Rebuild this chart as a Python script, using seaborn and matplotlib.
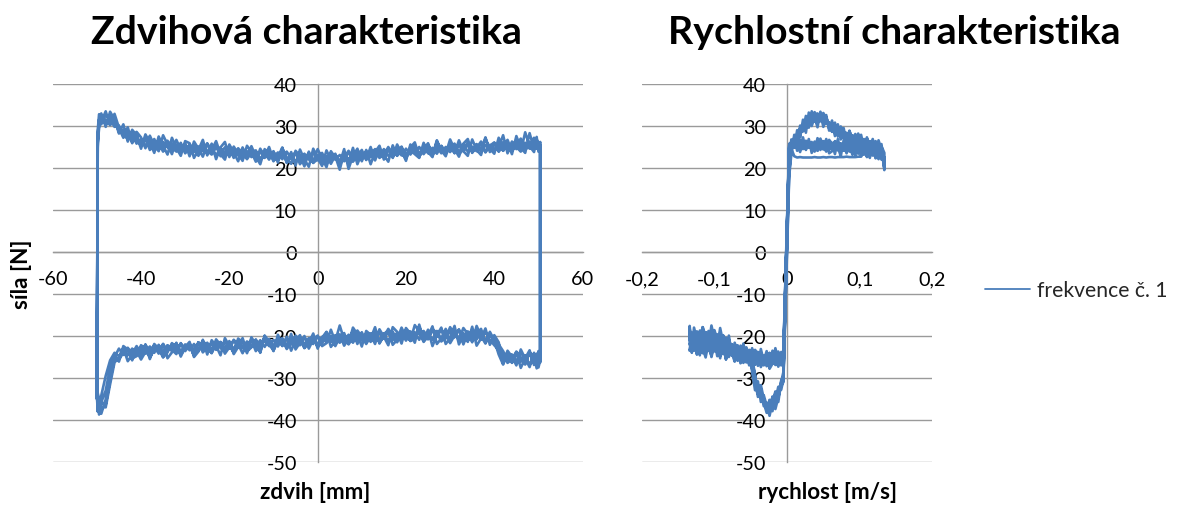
import matplotlib
matplotlib.use("Agg")
import matplotlib.pyplot as plt
import seaborn as sns
import pandas as pd
from matplotlib.lines import Line2D

# ---------------- data ----------------
TITLE_LEFT = "Zdvihová charakteristika"
TITLE_RIGHT = "Rychlostní charakteristika"
XLABEL_LEFT = "zdvih [mm]"
XLABEL_RIGHT = "rychlost [m/s]"
YLABEL = "síla [N]"
SERIES_NAME = "frekvence č. 1"

Y_TICKS = [-50, -40, -30, -20, -10, 0, 10, 20, 30, 40]
Y_TICK_LABELS = ["-50", "-40", "-30", "-20", "-10", "0", "10", "20", "30", "40"]
X_TICKS_LEFT = [-60, -40, -20, 0, 20, 40, 60]
X_TICK_LABELS_LEFT = ["-60", "-40", "-20", "0", "20", "40", "60"]
X_TICKS_RIGHT = [-0.2, -0.1, 0.0, 0.1, 0.2]
X_TICK_LABELS_RIGHT = ["-0,2", "-0,1", "0", "0,1", "0,2"]

# stroke positions [mm] of the up-stroke (the down-stroke runs the same positions backwards)
STROKE_X = [-50.0, -49.8, -49.5, -49, -48, -47, -46, -45, -44, -43, -42, -41, -40,
            -39, -38, -37, -36, -35, -34, -33, -32, -31, -30,
            -29, -28, -27, -26, -25, -24, -23, -22, -21, -20,
            -19, -18, -17, -16, -15, -14, -13, -12, -11, -10,
            -9, -8, -7, -6, -5, -4, -3, -2, -1, 0,
            1, 2, 3, 4, 5, 6, 7, 8, 9, 10,
            11, 12, 13, 14, 15, 16, 17, 18, 19, 20,
            21, 22, 23, 24, 25, 26, 27, 28, 29, 30,
            31, 32, 33, 34, 35, 36, 37, 38, 39, 40,
            41, 42, 43, 44, 45, 46, 47, 48, 49,
            49.6, 50.0, 50.4]

# force [N] on the up-stroke, five cycles
UP_F1 = [-31, 27.5, 30.2, 31.8, 30.6, 32.2, 30.4, 29.5, 27.2, 28.4, 26.1, 27.6, 25.3,
         26.8, 25.0, 26.9, 24.6, 26.2, 24.9, 25.8, 23.9, 25.7, 24.2,
         25.6, 23.8, 25.1, 24.0, 25.9, 23.5, 24.8, 23.6, 24.9, 23.2,
         24.6, 23.0, 24.4, 22.7, 24.3, 22.9, 23.8, 22.4, 24.1, 22.6,
         23.7, 22.1, 23.9, 22.3, 23.5, 21.8, 23.4, 22.0, 23.6, 21.9,
         23.2, 21.7, 23.5, 22.0, 23.1, 21.6, 23.8, 22.3, 24.0, 22.2,
         23.9, 22.6, 24.2, 22.8, 24.5, 22.9, 24.1, 23.0, 24.8, 23.1,
         24.6, 23.4, 25.0, 23.3, 24.7, 23.6, 25.2, 23.5, 25.0, 23.8,
         25.3, 23.7, 25.6, 23.9, 25.1, 24.0, 25.8, 23.9, 25.5, 24.2,
         26.0, 24.1, 25.7, 24.4, 26.3, 24.2, 26.0, 24.6, 26.4,
         24.8, 26.1, 25.0]
UP_F2 = [-33, 26.0, 29.4, 32.5, 31.2, 30.3, 32.0, 28.6, 29.0, 26.8, 27.9, 25.8, 26.9,
         25.2, 26.6, 24.8, 26.3, 24.5, 25.9, 24.3, 25.4, 24.0, 25.5,
         23.7, 25.2, 23.6, 24.9, 23.4, 24.7, 23.0, 24.8, 22.9, 24.4,
         22.8, 24.1, 22.5, 24.0, 22.6, 23.9, 22.2, 23.6, 22.0, 23.8,
         21.9, 23.3, 21.8, 23.4, 21.5, 23.0, 21.6, 22.9, 21.2, 23.1,
         21.4, 22.8, 21.0, 23.0, 21.7, 23.3, 21.9, 23.6, 22.0, 23.5,
         22.3, 24.0, 22.5, 23.9, 22.7, 24.3, 22.9, 24.4, 23.0, 24.6,
         23.2, 24.5, 23.3, 25.1, 23.5, 24.8, 23.4, 25.3, 23.8, 25.0,
         23.6, 25.4, 24.0, 25.5, 23.9, 25.7, 24.1, 25.4, 24.3, 25.9,
         24.0, 26.1, 24.4, 25.8, 24.5, 26.5, 24.3, 26.2, 24.7,
         26.6, 24.9, 25.5]
UP_F3 = [-29, 28.2, 31.0, 30.4, 32.6, 31.5, 29.8, 30.1, 28.0, 27.0, 28.3, 26.4, 25.6,
         27.1, 24.3, 25.5, 25.9, 23.9, 26.5, 24.6, 24.1, 26.0, 23.5,
         24.6, 25.3, 22.9, 25.4, 24.1, 23.2, 25.5, 22.8, 23.9, 24.8,
         22.4, 24.7, 23.5, 22.1, 23.7, 24.2, 21.8, 23.3, 23.9, 21.6,
         23.1, 24.0, 21.4, 22.6, 23.7, 20.9, 22.4, 23.5, 21.3, 22.0,
         23.6, 21.2, 22.1, 23.4, 20.8, 22.5, 24.1, 21.5, 22.9, 24.3,
         21.9, 23.3, 24.5, 22.4, 23.2, 25.0, 22.6, 23.9, 25.1, 22.8,
         24.0, 25.4, 23.1, 24.2, 25.6, 23.2, 24.5, 25.2, 23.6, 24.9,
         25.8, 23.3, 24.6, 26.0, 23.8, 24.8, 26.3, 23.7, 25.3, 26.1,
         23.9, 25.2, 26.7, 24.0, 25.6, 27.0, 24.4, 25.3, 27.2,
         24.6, 26.0, 24.8]
UP_F4 = [-35, 25.0, 31.5, 33.0, 29.8, 33.4, 31.6, 28.2, 30.4, 26.3, 29.1, 27.8, 24.6,
         28.0, 26.1, 23.6, 27.5, 25.3, 23.2, 27.2, 24.8, 22.9, 26.4,
         25.9, 22.4, 24.3, 26.7, 23.0, 25.8, 22.1, 24.9, 26.2, 22.6,
         25.1, 23.4, 21.7, 25.3, 23.8, 21.5, 24.6, 22.8, 25.0, 21.9,
         22.6, 24.9, 21.2, 23.8, 20.6, 24.4, 22.0, 20.3, 24.6, 22.3,
         20.5, 24.2, 21.9, 22.8, 19.6, 23.7, 21.4, 24.8, 20.9, 23.5,
         22.1, 25.0, 21.8, 24.6, 23.1, 21.5, 25.4, 22.9, 24.2, 21.7,
         25.6, 23.3, 22.4, 26.0, 23.8, 22.6, 26.4, 24.2, 22.8, 25.9,
         23.5, 26.6, 24.0, 22.9, 26.8, 24.3, 23.1, 27.0, 24.6, 23.4,
         27.2, 24.1, 26.0, 23.3, 27.6, 24.8, 23.6, 28.3, 24.5,
         27.4, 23.9, 26.2]
UP_F5 = [-32, 29.0, 32.8, 31.0, 33.5, 30.2, 32.9, 29.6, 27.6, 29.7, 25.9, 28.6, 27.3,
         24.7, 27.7, 25.4, 24.0, 27.8, 25.6, 23.3, 26.7, 24.4, 25.9,
         22.8, 26.3, 24.6, 22.7, 25.7, 24.3, 26.4, 23.3, 22.0, 25.6,
         23.7, 21.6, 24.9, 22.5, 25.2, 22.7, 20.9, 24.5, 22.9, 24.0,
         21.3, 24.7, 22.4, 21.0, 24.1, 22.9, 20.4, 23.9, 21.6, 24.5,
         22.3, 20.2, 24.0, 22.5, 21.1, 24.5, 19.8, 22.9, 24.6, 21.6,
         24.3, 20.9, 23.8, 25.3, 22.0, 24.7, 22.4, 25.6, 23.5, 22.2,
         24.9, 26.1, 22.7, 24.4, 25.9, 23.0, 26.6, 24.0, 23.4, 26.8,
         24.5, 22.7, 25.8, 26.9, 23.6, 25.1, 24.2, 27.3, 23.8, 25.9,
         24.9, 27.8, 23.5, 26.3, 25.0, 23.9, 28.5, 25.2, 23.8,
         26.9, 25.3, 24.6]

# force [N] on the down-stroke (positions STROKE_X reversed), five cycles
DOWN_F1 = [-24.5, -26.8, -24.2,
           -26.5, -24.1, -25.9, -23.8, -26.2, -24.4, -25.7, -23.6, -22.0, -21.3,
           -19.4, -21.0, -19.2, -20.8, -19.0, -21.1, -19.3, -20.6, -18.9, -21.0,
           -19.1, -20.7, -18.8, -20.9, -19.2, -21.2, -19.0, -20.5, -18.9, -21.1,
           -19.3, -20.8, -19.0, -21.3, -19.4, -20.9, -19.6, -21.4, -19.5, -21.0,
           -19.8, -21.6, -19.7, -21.3, -20.0, -21.8, -20.1, -21.5, -20.2, -22.0,
           -20.4, -21.9, -20.3, -22.2, -20.6, -22.0, -20.5, -22.4, -20.8, -22.3,
           -20.7, -22.6, -21.0, -22.5, -20.9, -22.8, -21.2, -22.7, -21.1, -23.0,
           -21.4, -22.9, -21.3, -23.2, -21.6, -23.1, -21.5, -23.4, -21.8, -23.3,
           -21.7, -23.6, -22.0, -23.5, -21.9, -23.8, -22.2, -23.7, -22.1, -24.0,
           -22.4, -24.2, -22.8, -24.5, -23.0, -25.0, -27.5, -33.0, -35.8,
           -37.0, -35.2, -31.0]
DOWN_F2 = [-25.2, -24.0, -26.6,
           -24.3, -26.9, -24.6, -26.1, -24.0, -26.3, -24.5, -25.1, -23.4, -22.2,
           -20.9, -19.0, -20.9, -18.7, -20.4, -18.9, -20.8, -18.6, -20.3, -18.8,
           -20.6, -18.5, -20.2, -18.7, -20.5, -18.8, -20.9, -19.1, -20.7, -18.9,
           -20.8, -19.2, -21.0, -19.1, -20.6, -19.3, -21.1, -19.4, -20.9, -19.6,
           -21.3, -19.5, -21.2, -19.9, -21.6, -19.8, -21.4, -20.2, -21.7, -20.1,
           -21.9, -20.5, -22.0, -20.4, -22.3, -20.7, -22.1, -20.6, -22.5, -20.9,
           -22.4, -21.0, -22.7, -20.8, -22.6, -21.3, -22.9, -21.2, -23.1, -21.5,
           -23.0, -21.4, -23.3, -21.7, -23.2, -21.6, -23.5, -21.9, -23.4, -22.0,
           -23.7, -21.8, -23.6, -22.3, -23.9, -22.1, -24.0, -22.5, -24.1, -22.7,
           -24.3, -23.0, -24.6, -23.1, -24.8, -24.0, -25.8, -29.5, -34.2,
           -36.5, -37.8, -33.0]
DOWN_F3 = [-23.8, -25.5, -27.2,
           -25.0, -23.9, -26.8, -25.2, -23.7, -25.6, -26.4, -24.2, -22.9, -20.5,
           -19.9, -21.6, -18.3, -19.7, -21.2, -19.5, -18.1, -20.9, -19.6, -17.9,
           -20.4, -21.3, -19.2, -18.4, -20.8, -19.9, -18.0, -20.6, -21.2, -18.6,
           -19.4, -21.5, -20.0, -18.3, -20.2, -21.6, -18.9, -19.8, -21.9, -20.1,
           -18.7, -20.4, -22.0, -19.3, -20.3, -22.4, -20.5, -19.2, -21.0, -22.6,
           -20.1, -20.9, -22.8, -21.0, -19.9, -21.7, -23.1, -20.6, -21.3, -23.4,
           -21.1, -20.5, -22.2, -23.6, -21.0, -21.9, -24.1, -22.0, -20.9, -22.7,
           -24.2, -21.5, -22.1, -24.0, -22.3, -21.2, -23.4, -24.6, -21.9, -22.8,
           -24.5, -22.6, -21.7, -23.9, -25.0, -22.4, -23.3, -25.1, -22.9, -22.2,
           -24.8, -25.3, -23.1, -24.0, -25.6, -25.5, -30.5, -36.4, -37.6,
           -35.0, -33.6, -30.0]
DOWN_F4 = [-26.3, -23.6, -27.7,
           -24.0, -27.4, -25.4, -23.2, -27.0, -24.9, -23.5, -26.6, -21.5, -19.8,
           -22.1, -18.2, -20.6, -22.3, -17.8, -21.4, -19.7, -22.0, -17.6, -20.5,
           -21.9, -18.0, -19.8, -22.4, -18.5, -20.9, -17.3, -21.6, -19.4, -18.1,
           -21.8, -19.0, -17.9, -22.2, -20.2, -18.4, -21.9, -19.7, -18.8, -22.5,
           -19.6, -18.0, -21.8, -20.9, -17.5, -21.2, -22.6, -19.0, -20.4, -23.0,
           -19.4, -21.7, -22.9, -19.8, -21.0, -23.5, -20.2, -22.3, -19.7, -23.6,
           -21.3, -19.9, -23.8, -22.0, -20.3, -24.1, -21.5, -20.6, -23.9, -22.4,
           -20.5, -24.6, -22.3, -21.0, -24.4, -20.9, -23.7, -25.0, -21.4, -22.6,
           -24.9, -21.6, -23.9, -25.3, -21.9, -24.2, -22.5, -25.5, -22.0, -24.6,
           -22.7, -25.8, -23.2, -22.4, -26.1, -24.6, -29.0, -35.1, -38.5,
           -36.2, -38.0, -34.0]
DOWN_F5 = [-25.8, -27.5, -24.4,
           -26.9, -23.4, -25.3, -27.6, -23.9, -26.4, -24.1, -26.8, -24.4, -21.0,
           -19.0, -21.8, -20.0, -17.6, -21.5, -19.3, -22.0, -18.4, -19.9, -21.7,
           -18.3, -20.6, -21.9, -17.7, -20.1, -21.4, -18.9, -17.4, -21.1, -20.3,
           -18.0, -20.9, -22.1, -18.7, -19.5, -21.8, -17.9, -20.6, -21.5, -19.1,
           -21.9, -18.8, -20.7, -22.3, -19.6, -21.4, -18.5, -21.7, -22.4, -19.9,
           -20.8, -23.0, -20.0, -21.6, -23.2, -19.5, -22.8, -21.3, -20.4, -23.3,
           -22.1, -20.0, -24.0, -21.0, -22.7, -23.7, -20.5, -22.6, -24.3, -21.2,
           -23.3, -22.1, -20.8, -24.1, -22.8, -23.9, -21.5, -24.7, -22.2, -23.6,
           -21.8, -24.3, -23.3, -22.2, -25.1, -23.0, -21.9, -24.7, -23.8, -25.6,
           -23.6, -24.4, -26.0, -22.9, -25.2, -26.3, -31.5, -37.0, -35.5,
           -38.7, -36.4, -32.5]

# velocity grids [m/s]
V_POS = [0.003, 0.006, 0.010, 0.014, 0.018, 0.022, 0.026, 0.030, 0.034, 0.038,
         0.042, 0.046, 0.050, 0.054, 0.058, 0.062, 0.066, 0.070, 0.074, 0.078,
         0.082, 0.086, 0.090, 0.094, 0.098, 0.102, 0.106, 0.110, 0.114, 0.118,
         0.122, 0.126, 0.130, 0.134]
V_NEG = [-0.005, -0.008, -0.012, -0.016, -0.020, -0.024, -0.028, -0.032, -0.036, -0.040,
         -0.044, -0.048, -0.052, -0.056, -0.060, -0.064, -0.068, -0.072, -0.076, -0.080,
         -0.084, -0.088, -0.092, -0.096, -0.100, -0.104, -0.108, -0.112, -0.116, -0.120,
         -0.124, -0.128, -0.131, -0.134]

# A: accelerating up-stroke (V_POS ascending)
A_F1 = [20.5, 25.3, 27.2, 26.8, 29.4, 28.7, 31.2, 30.1, 32.6, 31.0, 33.0, 31.1, 32.4, 30.6, 30.9, 28.7,
        29.8, 27.9, 28.9, 27.0, 28.4, 26.6, 27.8, 25.9, 27.4, 25.4, 26.9, 24.8, 26.4, 24.3, 25.9, 23.8,
        25.2, 23.6]
A_F2 = [19.0, 24.2, 26.0, 28.1, 27.6, 30.3, 29.5, 31.9, 30.8, 32.9, 31.4, 32.8, 30.7, 32.1, 29.4, 30.3,
        28.2, 29.6, 27.3, 28.8, 26.9, 28.3, 26.2, 27.6, 25.8, 27.1, 25.1, 26.7, 24.6, 26.2, 24.2, 25.6,
        23.4, 21.0]
A_F3 = [21.5, 25.8, 26.3, 27.9, 28.3, 29.1, 30.8, 31.5, 31.2, 33.3, 32.2, 31.6, 33.1, 31.8, 30.2, 29.9,
        29.3, 28.6, 29.2, 27.8, 27.1, 28.0, 27.5, 26.4, 26.8, 26.9, 25.6, 25.9, 26.1, 24.7, 24.9, 25.3,
        23.9, 22.5]
A_F4 = [22.5, 26.8, 24.9, 29.0, 27.3, 31.5, 28.4, 33.2, 30.0, 32.1, 29.7, 33.4, 31.0, 32.6, 28.9, 31.3,
        27.6, 30.4, 26.8, 29.5, 25.9, 28.9, 26.5, 28.1, 25.3, 27.9, 24.6, 27.3, 25.0, 26.9, 23.9, 26.6,
        24.4, 22.0]
A_F5 = [18.0, 23.4, 27.9, 25.6, 30.1, 28.9, 32.4, 29.6, 33.5, 31.4, 30.5, 33.1, 29.8, 31.6, 30.6, 28.6,
        30.8, 27.5, 29.9, 28.1, 26.4, 28.7, 27.0, 25.7, 28.2, 26.0, 24.4, 27.0, 25.2, 24.0, 26.4, 23.2,
        25.7, 19.8]
# B: decelerating up-stroke (V_POS descending)
B_F1 = [20.2, 24.1, 22.6, 24.5, 23.0, 24.8, 23.1, 25.2, 23.5, 25.4, 23.7, 25.8, 23.9, 26.0, 24.1, 25.9,
        24.2, 26.3, 24.4, 26.1, 24.5, 26.4, 24.3, 26.6, 24.6, 26.2, 24.8, 26.5, 24.5, 26.7, 24.9, 26.0,
        25.3, 25.8]
B_F2 = [22.4, 22.0, 23.9, 22.5, 24.3, 22.8, 24.6, 23.2, 24.9, 23.4, 25.2, 23.6, 25.5, 23.8, 25.7, 24.0,
        25.6, 24.2, 26.0, 24.3, 25.9, 24.4, 26.2, 24.1, 26.3, 24.7, 26.0, 24.6, 26.4, 24.8, 26.1, 25.0,
        26.2, 24.9]
B_F3 = [21.8, 24.0, 22.9, 24.7, 23.1, 24.4, 22.8, 23.9, 22.7, 22.7, 22.6, 22.6, 22.6, 22.7, 22.6, 22.6,
        22.6, 22.5, 22.6, 22.6, 22.5, 22.6, 22.5, 22.5, 22.6, 22.5, 22.5, 22.5, 22.5, 22.6, 22.5, 22.8,
        24.6, 25.4]
B_F4 = [21.0, 23.5, 25.2, 22.3, 24.9, 26.1, 22.6, 25.5, 23.4, 26.4, 22.9, 25.1, 26.8, 23.5, 25.6, 24.0,
        26.9, 23.3, 25.8, 26.7, 23.9, 25.2, 27.0, 24.2, 25.7, 23.6, 26.9, 24.5, 25.9, 23.8, 26.6, 24.8,
        26.3, 25.1]
B_F5 = [19.5, 24.8, 22.1, 23.7, 25.6, 22.4, 24.2, 26.2, 23.0, 24.7, 26.5, 23.2, 25.3, 24.1, 26.6, 22.8,
        25.0, 26.4, 24.0, 23.5, 26.9, 24.6, 25.1, 27.1, 23.9, 25.4, 26.2, 24.3, 27.3, 25.0, 24.1, 26.8,
        25.6, 24.7]
# C: accelerating down-stroke (V_NEG order)
C_F1 = [-24.0, -26.3, -24.6, -26.9, -24.8, -26.5, -24.3, -26.1, -23.9, -26.4, -24.2, -25.8, -23.5,
        -25.9, -23.3, -25.2, -22.8, -24.6, -22.1, -22.9, -20.4, -21.8, -19.3, -21.5, -19.0, -21.7,
        -18.8, -21.4, -18.9, -21.9, -19.2, -22.3, -19.5, -21.0]
C_F2 = [-25.8, -24.2, -27.0, -24.5, -26.6, -24.1, -27.2, -24.7, -26.3, -23.8, -26.7, -24.0, -26.2,
        -23.6, -25.7, -23.4, -25.5, -22.6, -23.8, -21.2, -22.6, -19.8, -21.9, -19.6, -22.0, -19.4,
        -21.6, -19.1, -22.2, -18.7, -21.8, -19.0, -22.5, -18.2]
C_F3 = [-25.0, -25.6, -23.7, -25.9, -26.4, -24.0, -25.3, -27.0, -24.5, -25.0, -26.8, -23.7, -24.6,
        -26.3, -24.1, -23.8, -25.9, -23.2, -22.0, -23.9, -21.1, -19.9, -22.6, -20.7, -18.6, -21.2,
        -22.0, -19.1, -20.4, -22.8, -18.9, -20.5, -23.1, -17.6]
C_F4 = [-26.5, -23.8, -27.3, -25.2, -23.5, -27.6, -24.9, -26.0, -23.1, -27.1, -25.5, -22.9, -26.5,
        -24.6, -22.4, -26.2, -23.9, -21.6, -24.7, -19.9, -23.3, -21.5, -18.1, -22.9, -20.6, -17.5,
        -22.4, -20.1, -17.9, -23.0, -20.8, -18.0, -24.0, -19.6]
C_F5 = [-24.6, -27.0, -25.8, -22.9, -26.6, -27.8, -23.6, -25.9, -27.4, -24.2, -23.3, -26.9, -25.0,
        -22.7, -25.6, -26.5, -22.2, -24.9, -23.0, -20.8, -21.9, -24.3, -19.4, -20.7, -23.6, -18.8,
        -21.3, -23.9, -17.9, -20.5, -24.4, -19.1, -21.7, -23.5]
# D: decelerating down-stroke (V_NEG reversed)
D_F1 = [-20.5, -22.4, -20.9, -22.8, -21.0, -23.1, -21.3, -23.4, -21.5, -23.6, -21.7, -23.8, -22.0,
        -24.1, -22.2, -24.3, -22.4, -24.6, -22.7, -24.9, -23.0, -25.2, -25.6, -29.8, -32.4, -34.6,
        -35.1, -37.3, -35.4, -36.0, -33.2, -33.9, -30.6, -29.5]
D_F2 = [-22.1, -20.6, -23.0, -21.2, -22.6, -21.4, -23.5, -21.6, -23.3, -21.9, -24.0, -22.1, -23.9,
        -22.3, -24.4, -22.5, -24.2, -22.8, -25.0, -23.1, -24.8, -23.4, -27.9, -31.2, -33.8, -33.0,
        -36.7, -35.9, -38.1, -34.4, -35.3, -32.1, -32.8, -30.4]
D_F3 = [-18.6, -21.9, -23.5, -19.7, -22.2, -24.1, -20.5, -23.0, -24.6, -21.0, -22.7, -25.3, -21.6,
        -23.4, -25.0, -22.1, -23.8, -25.6, -22.9, -24.5, -26.0, -23.5, -26.8, -30.7, -34.5, -32.6,
        -35.8, -38.3, -36.9, -34.7, -36.2, -32.9, -31.4, -29.8]
D_F4 = [-20.0, -23.8, -19.4, -22.5, -24.6, -20.3, -23.6, -21.1, -25.0, -22.0, -20.6, -24.7, -22.4,
        -25.5, -21.3, -24.0, -26.1, -22.6, -24.9, -21.8, -25.7, -23.3, -28.5, -32.9, -30.8, -35.7,
        -34.1, -36.6, -39.0, -35.8, -37.4, -34.6, -31.9, -31.0]
D_F5 = [-23.2, -19.8, -21.4, -24.3, -20.7, -22.9, -25.1, -21.6, -23.5, -20.9, -24.8, -22.8, -21.5,
        -25.6, -23.2, -22.0, -25.9, -24.1, -22.3, -26.4, -24.4, -27.0, -25.4, -29.1, -33.6, -31.7,
        -34.9, -37.8, -35.2, -37.9, -33.5, -35.7, -31.0, -28.6]

# ---------------- assemble long-form tables ----------------
UP_CYCLES = [UP_F1, UP_F2, UP_F3, UP_F4, UP_F5]
DOWN_CYCLES = [DOWN_F1, DOWN_F2, DOWN_F3, DOWN_F4, DOWN_F5]
A_CYCLES = [A_F1, A_F2, A_F3, A_F4, A_F5]
B_CYCLES = [B_F1, B_F2, B_F3, B_F4, B_F5]
C_CYCLES = [C_F1, C_F2, C_F3, C_F4, C_F5]
D_CYCLES = [D_F1, D_F2, D_F3, D_F4, D_F5]

for arr in UP_CYCLES + DOWN_CYCLES:
    assert len(arr) == len(STROKE_X), len(arr)
for arr in A_CYCLES + B_CYCLES + C_CYCLES + D_CYCLES:
    assert len(arr) == len(V_POS) == len(V_NEG), len(arr)

lx, lf = [], []
for up, down in zip(UP_CYCLES, DOWN_CYCLES):
    lx += STROKE_X + STROKE_X[::-1]
    lf += up + down
df_left = pd.DataFrame({"zdvih": lx, "sila": lf})

rv, rf = [], []
for a, b, c, d in zip(A_CYCLES, B_CYCLES, C_CYCLES, D_CYCLES):
    rv += V_POS + V_POS[::-1] + V_NEG + V_NEG[::-1]
    rf += a + b + c + d
df_right = pd.DataFrame({"rychlost": rv, "sila": rf})

# ---------------- styling ----------------
sns.set_theme(style="white")
FONT = ["Lato", "DejaVu Sans"]
plt.rcParams["font.family"] = FONT
plt.rcParams["axes.unicode_minus"] = False

BLUE = "#4a7ebb"
GRID = "#9a9a9a"
W, H = 1182, 506
fig = plt.figure(figsize=(W / 100, H / 100), dpi=100)
fig.patch.set_facecolor("white")


def fx(px):
    return px / W


def fy(py):
    return 1 - py / H


renderer = fig.canvas.get_renderer()


def fit_size(text, target, weight="normal", base=20.0, rotation=0):
    t = fig.text(0, 0, text, fontsize=base, fontweight=weight, rotation=rotation)
    bb = t.get_window_extent(renderer=renderer)
    t.remove()
    size = bb.height if rotation else bb.width
    return base * target / size


title_fs = 0.5 * (fit_size(TITLE_LEFT, 431, "bold") + fit_size(TITLE_RIGHT, 452, "bold"))
label_fs = (fit_size(XLABEL_LEFT, 114, "bold") + fit_size(XLABEL_RIGHT, 138, "bold")
            + fit_size(YLABEL, 68, "bold", rotation=90)) / 3
tick_fs = (fit_size("-0,2", 36.7) + fit_size("-60", 31) + fit_size("40", 21.7)) / 3
legend_fs = fit_size(SERIES_NAME, 131)

top, bottom = 85, 463
ax1 = fig.add_axes([fx(52.7), fy(bottom), (582.6 - 52.7) / W, (bottom - top) / H])
ax2 = fig.add_axes([fx(641.7), fy(bottom), (932.3 - 641.7) / W, (bottom - top) / H])

sns.lineplot(data=df_left, x="zdvih", y="sila", sort=False, estimator=None,
             color=BLUE, lw=1.9, ax=ax1, legend=False, zorder=3)
sns.lineplot(data=df_right, x="rychlost", y="sila", sort=False, estimator=None,
             color=BLUE, lw=1.9, ax=ax2, legend=False, zorder=3)

for ax, xlim, xt, xtl in ((ax1, (-60, 60), X_TICKS_LEFT, X_TICK_LABELS_LEFT),
                          (ax2, (-0.2, 0.2), X_TICKS_RIGHT, X_TICK_LABELS_RIGHT)):
    ax.set_facecolor("none")
    ax.set_xlim(*xlim)
    ax.set_ylim(-50, 40)
    ax.set_xlabel("")
    ax.set_ylabel("")
    for s in ("top", "right"):
        ax.spines[s].set_visible(False)
    for s in ("left", "bottom"):
        ax.spines[s].set_position(("data", 0))
        ax.spines[s].set_color(GRID)
        ax.spines[s].set_linewidth(1.0)
        ax.spines[s].set_zorder(2)
    ax.set_yticks(Y_TICKS)
    ax.set_yticklabels(Y_TICK_LABELS)
    ax.set_xticks(xt)
    ax.set_xticklabels(xtl)
    ax.tick_params(axis="y", length=0, pad=15, labelsize=tick_fs, labelcolor="black")
    ax.tick_params(axis="x", length=5, width=1, color=GRID, direction="out",
                   pad=8, labelsize=tick_fs, labelcolor="black")
    ax.yaxis.grid(True, color=GRID, lw=1.0, zorder=0)
    ax.xaxis.grid(False)

# titles and axis labels
fig.text(fx(306), fy(44), TITLE_LEFT, ha="center", va="baseline",
         fontsize=title_fs, fontweight="bold", color="black")
fig.text(fx(894), fy(44), TITLE_RIGHT, ha="center", va="baseline",
         fontsize=title_fs, fontweight="bold", color="black")
fig.text(fx(315), fy(493), XLABEL_LEFT, ha="center", va="center",
         fontsize=label_fs, fontweight="bold", color="black")
fig.text(fx(828), fy(493), XLABEL_RIGHT, ha="center", va="center",
         fontsize=label_fs, fontweight="bold", color="black")
fig.text(fx(22), fy(274), YLABEL, ha="center", va="center", rotation=90,
         fontsize=label_fs, fontweight="bold", color="black")

# legend
fs_px = legend_fs * 100 / 72
handle = Line2D([], [], color=BLUE, lw=1.3)
fig.legend([handle], [SERIES_NAME], loc="center left", bbox_to_anchor=(fx(985), fy(291)),
           frameon=False, borderpad=0, borderaxespad=0, fontsize=legend_fs,
           handlelength=45 / fs_px, handletextpad=7 / fs_px)

fig.savefig("out.png", dpi=100, facecolor="white")
